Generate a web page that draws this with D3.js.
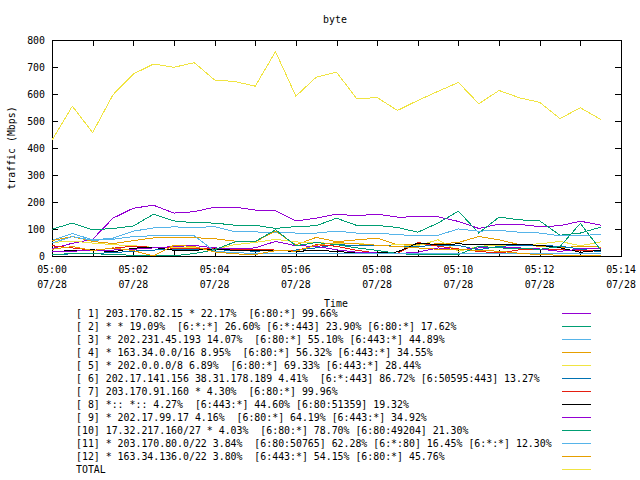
<!DOCTYPE html>
<html><head><meta charset="utf-8">
<script src="https://cdn.jsdelivr.net/npm/d3@7"></script>
<style>
body{margin:0;background:#fff}
text{font-family:"DejaVu Sans Mono",monospace;font-size:9.9px;fill:#000}
</style>
</head><body>
<svg id="chart" width="640" height="480"></svg>
<script>
const title = "byte";
const yLabel = "traffic (Mbps)";
const xLabel = "Time";
const dateLabel = "07/28";
const times = ["05:00:00","05:00:30","05:01:00","05:01:30","05:02:00","05:02:30","05:03:00","05:03:30",
  "05:04:00","05:04:30","05:05:00","05:05:30","05:06:00","05:06:30","05:07:00","05:07:30","05:08:00","05:08:30",
  "05:09:00","05:09:30","05:10:00","05:10:30","05:11:00","05:11:30","05:12:00","05:12:30","05:13:00","05:13:30"];
const xTickTimes = ["05:00","05:01","05:02","05:03","05:04","05:05","05:06","05:07","05:08","05:09","05:10","05:11","05:12","05:13","05:14"];
const xLabelTimes = ["05:00","05:02","05:04","05:06","05:08","05:10","05:12","05:14"];
const yTicks = [0,100,200,300,400,500,600,700,800];

const s1  = [28,47,62,140,177,188,159,164,181,181,170,168,130,140,155,149,155,144,145,145,128,102,118,117,109,112,129,114];
const s2  = [99,122,97,102,111,155,130,123,122,114,114,102,109,112,140,113,113,106,88,122,166,85,144,134,130,77,85,107];
const s3  = [58,83,60,66,92,104,108,105,109,90,89,88,85,85,92,85,85,79,75,77,100,92,95,88,85,75,75,81];
const s4  = [57,72,54,46,57,67,68,68,64,55,53,92,41,69,53,60,66,42,42,45,50,72,60,42,36,30,36,33];
const s5  = [50,55,48,42,38,32,30,30,25,42,50,62,52,50,45,48,38,42,38,60,17,36,40,42,45,54,38,52];
const s6  = [5,8,10,12,18,22,25,24,24,20,18,20,22,30,42,39,39,36,36,39,39,23,36,39,39,36,26,15];
const s7  = [38,30,21,29,36,32,29,29,29,25,25,22,18,42,36,21,11,9,50,36,26,17,11,23,26,23,21,21];
const s8  = [15,21,23,15,29,32,21,21,26,21,21,21,17,21,17,11,11,15,48,42,45,42,42,42,40,30,14,21];
const s9  = [15,18,20,22,25,30,35,39,30,26,30,54,38,36,23,14,11,9,14,30,23,30,30,30,26,17,26,26];
const s10 = [5,9,9,5,3,2,1,9,23,52,54,97,38,50,42,30,21,9,5,5,5,36,30,28,25,35,121,22];
const s11 = [48,72,58,62,72,75,75,75,18,12,10,10,9,8,8,8,8,8,8,9,10,10,10,10,9,8,8,9];
const s12 = [25,35,20,30,20,0,40,35,15,8,5,20,18,40,50,45,40,35,30,25,25,20,18,10,5,3,3,2];
const total = [429,555,457,597,674,711,699,716,652,646,629,757,592,662,681,582,587,539,576,610,643,564,613,586,569,509,549,506];

const seriesLabels = [
  "[ 1] 203.170.82.15 * 22.17%  [6:80:*] 99.66%",
  "[ 2] * * 19.09%  [6:*:*] 26.60% [6:*:443] 23.90% [6:80:*] 17.62%",
  "[ 3] * 202.231.45.193 14.07%  [6:80:*] 55.10% [6:443:*] 44.89%",
  "[ 4] * 163.34.0.0/16 8.95%  [6:80:*] 56.32% [6:443:*] 34.55%",
  "[ 5] * 202.0.0.0/8 6.89%  [6:80:*] 69.33% [6:443:*] 28.44%",
  "[ 6] 202.17.141.156 38.31.178.189 4.41%  [6:*:443] 86.72% [6:50595:443] 13.27%",
  "[ 7] 203.170.91.160 * 4.30%  [6:80:*] 99.96%",
  "[ 8] *:: *:: 4.27%  [6:443:*] 44.60% [6:80:51359] 19.32%",
  "[ 9] * 202.17.99.17 4.16%  [6:80:*] 64.19% [6:443:*] 34.92%",
  "[10] 17.32.217.160/27 * 4.03%  [6:80:*] 78.70% [6:80:49204] 21.30%",
  "[11] * 203.170.80.0/22 3.84%  [6:80:50765] 62.28% [6:*:80] 16.45% [6:*:*] 12.30%",
  "[12] * 163.34.136.0/22 3.80%  [6:443:*] 54.15% [6:80:*] 45.76%",
  "TOTAL"
];
const colors = ["#9400d3","#009e73","#56b4e9","#e69f00","#f0e442","#0072b2","#e51e10","#000000",
                "#9400d3","#009e73","#56b4e9","#e69f00","#f0e442"];
const allSeries = [s1,s2,s3,s4,s5,s6,s7,s8,s9,s10,s11,s12,total];

const svg = d3.select("#chart");
const L = 52, R = 621, T = 40, B = 256;
const parseT = d3.utcParse("%H:%M:%S");
const parseM = d3.utcParse("%H:%M");
const tDates = times.map(parseT);

const x = d3.scaleUtc().domain([parseM("05:00"), parseM("05:14")]).range([L, R]);
const y = d3.scaleLinear().domain([0, 800]).range([B, T]);

// title
svg.append("text").attr("x", 335).attr("y", 23).attr("text-anchor","middle").text(title);

// axes
const gl = svg.append("g").attr("transform", `translate(${L},0)`)
  .call(d3.axisLeft(y).tickValues(yTicks).tickSize(-6).tickPadding(7));
const gr = svg.append("g").attr("transform", `translate(${R},0)`)
  .call(d3.axisRight(y).tickValues(yTicks).tickSize(-6).tickFormat(""));
const xTickDates = xTickTimes.map(parseM);
const gb = svg.append("g").attr("transform", `translate(0,${B})`)
  .call(d3.axisBottom(x).tickValues(xTickDates).tickSize(-6).tickFormat(""));
const gt = svg.append("g").attr("transform", `translate(0,${T})`)
  .call(d3.axisTop(x).tickValues(xTickDates).tickSize(-6).tickFormat(""));
[gl,gr,gb,gt].forEach(g => {
  g.select(".domain").remove();
  g.selectAll("line").attr("stroke","#000").attr("shape-rendering","crispEdges");
  g.selectAll("text").style("font-family",'"DejaVu Sans Mono",monospace').style("font-size","9.9px");
});

// x labels (two lines)
xLabelTimes.forEach(t => {
  const xx = x(parseM(t));
  svg.append("text").attr("x", xx).attr("y", 273).attr("text-anchor","middle").text(t);
  svg.append("text").attr("x", xx).attr("y", 288).attr("text-anchor","middle").text(dateLabel);
});

// frame
svg.append("rect").attr("x", L).attr("y", T).attr("width", R-L).attr("height", B-T)
  .attr("fill","none").attr("stroke","#000").attr("shape-rendering","crispEdges");

// y label
svg.append("text").attr("transform","translate(15,148) rotate(-90)").attr("text-anchor","middle").text(yLabel);
// x label
svg.append("text").attr("x", 336).attr("y", 307).attr("text-anchor","middle").text(xLabel);

// lines
const line = d3.line().x((d,i) => x(tDates[i])).y(d => y(d));
allSeries.forEach((s, k) => {
  svg.append("path").datum(s).attr("d", line).attr("fill","none")
    .attr("stroke", colors[k]).attr("stroke-width", 1).attr("shape-rendering","crispEdges");
});

// legend
seriesLabels.forEach((lab, k) => {
  const cy = 313 + 13*k;
  svg.append("text").attr("x", 76).attr("y", cy + 4).style("white-space","pre").text(lab);
  svg.append("line").attr("x1", 562).attr("x2", 591).attr("y1", cy).attr("y2", cy)
    .attr("stroke", colors[k]).attr("stroke-width",1).attr("shape-rendering","crispEdges");
});
</script>
</body></html>
